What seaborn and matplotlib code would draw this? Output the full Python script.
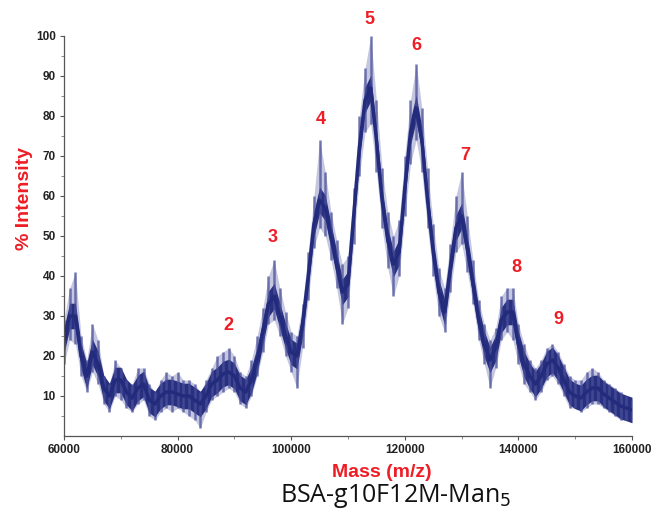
import numpy as np
import pandas as pd
import matplotlib
matplotlib.use("Agg")
import matplotlib.pyplot as plt
import seaborn as sns

# ---- data ----
mass = list(range(60000, 160001, 1000))
intensity_mid = [24, 30, 30, 20, 15, 21, 18, 12, 10, 14,
                 14, 11, 9.5, 12, 13, 9, 8, 10, 11, 11,
                 10.5, 10, 10, 9, 8, 10, 13, 14, 15.5, 16,
                 15, 12, 11, 14, 19, 26, 33, 35, 30, 25,
                 21, 20, 28, 40, 53, 59, 57, 50, 43, 36,
                 38, 55, 72, 84, 87, 74, 59, 49, 43, 46,
                 62, 76, 82, 74, 59, 46, 36, 31, 42, 52,
                 55, 47, 38, 29, 23, 19, 22, 29, 31, 31,
                 23, 18, 15, 13, 15, 18, 19, 17, 14, 11,
                 10, 9.5, 11, 12, 12, 10.5, 9.5, 8.5, 7.5, 7, 6.5]
intensity_lo = [18, 24, 23, 15, 11, 16, 13, 8, 6, 10,
                9, 7, 6, 8, 9, 5, 4, 6, 7, 6,
                7, 6, 5, 4, 2, 6, 9, 10, 11, 12,
                11, 8, 7, 10, 15, 21, 28, 29, 25, 20,
                16, 12, 22, 34, 47, 52, 50, 44, 37, 28,
                32, 48, 65, 76, 78, 66, 52, 42, 35, 40,
                55, 68, 74, 66, 52, 40, 30, 26, 36, 46,
                48, 41, 33, 24, 18, 12, 17, 24, 26, 24,
                18, 13, 11, 9, 11, 14, 15, 13, 10, 7,
                7, 6, 7, 8, 8, 7, 6, 5, 4, 4, 4]
intensity_hi = [29, 37, 41, 25, 19, 28, 24, 15, 13, 19,
                17, 14, 13, 17, 17, 13, 11, 14, 16, 15,
                16, 14, 14, 13, 11, 14, 17, 20, 21, 22,
                20, 16, 15, 19, 25, 32, 40, 44, 37, 31,
                26, 25, 33, 46, 60, 74, 66, 56, 49, 43,
                45, 62, 80, 92, 100, 84, 67, 56, 50, 54,
                70, 84, 93, 82, 67, 53, 42, 37, 48, 60,
                66, 55, 44, 34, 28, 24, 27, 35, 37, 37,
                28, 23, 19, 17, 19, 22, 23, 21, 18, 15,
                14, 14, 16, 17, 16, 14, 13, 12, 11, 10, 9]

peak_labels = ["2", "3", "4", "5", "6", "7", "8", "9"]
peak_label_mass = [89000, 96800, 105200, 113700, 122100, 130600, 139600, 147000]
peak_label_int = [27.5, 49.5, 79, 104, 97.5, 70, 42, 29]

x_ticks = [60000, 80000, 100000, 120000, 140000, 160000]
y_ticks = [10, 20, 30, 40, 50, 60, 70, 80, 90, 100]

df = pd.DataFrame({"mass": mass, "mid": intensity_mid,
                   "lo": intensity_lo, "hi": intensity_hi})

# ---- style ----
sns.set_theme(style="ticks")
plt.rcParams["font.family"] = ["Liberation Sans", "DejaVu Sans"]

NAVY = "#232b7c"
RED = "#ee1c25"

fig = plt.figure(figsize=(6.52, 5.16), dpi=100)
ax = fig.add_axes([64 / 652, 80 / 516, 568 / 652, 400 / 516])

# light halo of the noise envelope
ax.fill_between(df["mass"], df["lo"], df["hi"], color="#5b61a8",
                lw=0, alpha=0.35)
# spikes
ax.vlines(df["mass"], df["lo"], df["hi"], color="#4a509a", alpha=0.75, lw=1.8)
# dense core band
ax.fill_between(df["mass"], df["mid"] - 3.2, df["mid"] + 3.2,
                color=NAVY, lw=0, alpha=0.97)
sns.lineplot(data=df, x="mass", y="mid", ax=ax, color=NAVY, lw=2.5)

for lab, mx, my in zip(peak_labels, peak_label_mass, peak_label_int):
    ax.text(mx, my, lab, color=RED, fontsize=13, fontweight="bold",
            ha="center", va="center", clip_on=False)

ax.set_xlim(60000, 160000)
ax.set_ylim(0, 100)
ax.set_xticks(x_ticks)
ax.set_xticklabels([str(v) for v in x_ticks])
ax.set_xticks(list(range(70000, 160000, 20000)), minor=True)
ax.set_yticks(y_ticks)
ax.set_yticklabels([str(v) for v in y_ticks])
ax.set_yticks(list(range(5, 100, 10)), minor=True)

for lab in ax.get_xticklabels() + ax.get_yticklabels():
    lab.set_fontweight("bold")
    lab.set_fontsize(8.5)
    lab.set_color("#222222")

ax.tick_params(axis="both", which="major", length=3, width=0.8, color="#555555", pad=3)
ax.tick_params(axis="both", which="minor", length=2, width=0.6, color="#777777")
for s in ["top", "right"]:
    ax.spines[s].set_visible(False)
for s in ["left", "bottom"]:
    ax.spines[s].set_color("#555555")
    ax.spines[s].set_linewidth(0.9)

ax.set_xlabel("Mass (m/z)", color=RED, fontsize=14, fontweight="bold")
ax.set_ylabel("% Intensity", color=RED, fontsize=14, fontweight="bold")
ax.xaxis.set_label_coords(0.56, -0.07)
ax.yaxis.set_label_coords(-0.055, 0.593)

fig.text(396 / 652, 1 - 496 / 516, "BSA-g10F12M-Man$_5$", fontsize=18,
         family="Open Sans", ha="center", va="center", color="#111111")

fig.savefig("out.png", dpi=100)
